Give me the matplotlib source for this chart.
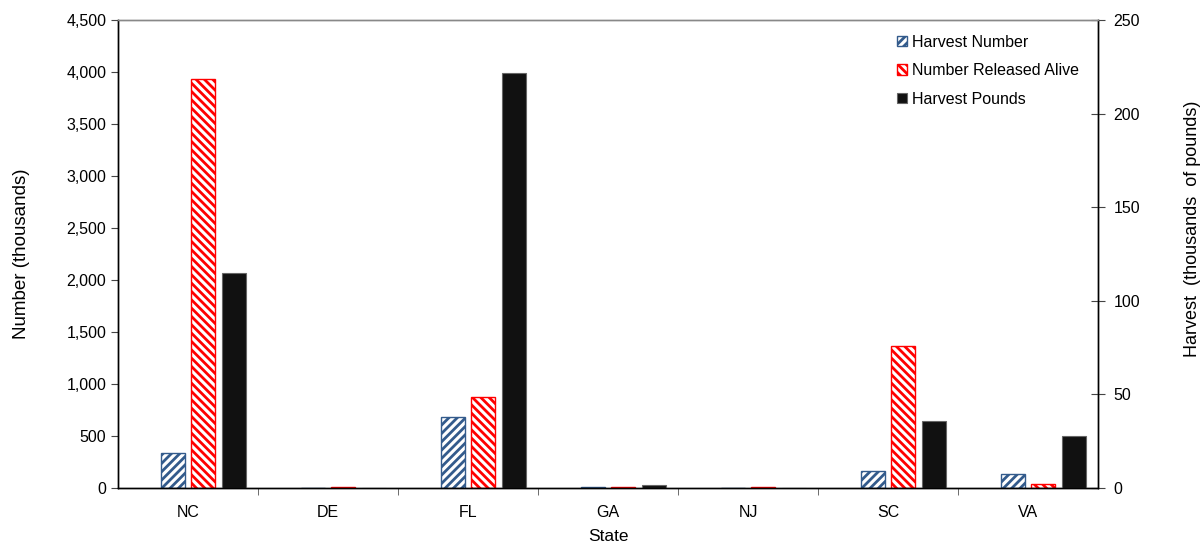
import numpy as np
import matplotlib as mpl
from matplotlib import pyplot as plt

mpl.rcParams.update({
    'font.family': ['Liberation Sans', 'DejaVu Sans'],
    'font.size': 11.5,
    'hatch.linewidth': 2.0,
    'axes.linewidth': 1.0,
})

states = ['NC', 'DE', 'FL', 'GA', 'NJ', 'SC', 'VA']
harvest_number = [333, 0, 680, 10, 0, 166, 132]        # thousands
released_alive = [3930, 10, 878, 10, 10, 1365, 41]     # thousands
harvest_pounds = [115.0, 0, 221.5, 1.6, 0, 35.8, 27.9]  # thousands of lbs

x = np.arange(len(states))
w = 0.17

fig = plt.figure(figsize=(12.04, 5.44), dpi=100)
ax = fig.add_axes([0.098, 0.103, 0.814, 0.860])
ax2 = ax.twinx()

blue = '#335b8c'
b1 = ax.bar(x - 0.107, harvest_number, w, facecolor='white', edgecolor=blue,
            hatch='////', linewidth=1.0, label='Harvest Number')
b2 = ax.bar(x + 0.107, released_alive, w, facecolor='white', edgecolor='red',
            hatch='\\\\\\\\', linewidth=1.0, label='Number Released Alive')
b3 = ax2.bar(x + 0.33, harvest_pounds, w, facecolor='#111111', edgecolor='#666666',
             linewidth=0.8, label='Harvest Pounds')

ax.set_xlim(-0.5, len(states) - 0.5)
ax.set_ylim(0, 4500)
ax2.set_ylim(0, 250)
ax.set_yticks(np.arange(0, 4501, 500))
ax.set_yticklabels(['{:,}'.format(v) for v in range(0, 4501, 500)])
ax2.set_yticks(np.arange(0, 251, 50))

ax.set_xticks(x)
ax.set_xticklabels(states)
ax.set_xticks(np.arange(0.5, len(states) - 0.5, 1), minor=True)
ax.tick_params(axis='x', which='major', length=0, pad=12)
ax.tick_params(axis='x', which='minor', length=5, direction='out', color='#555555')
ax.tick_params(axis='y', direction='out', length=5, color='#444444')
ax2.tick_params(axis='y', direction='inout', length=10, color='#444444', pad=6)

for a in (ax, ax2):
    a.spines['top'].set_color('#888888')

ax.set_xlabel('State', fontsize=12.5, labelpad=7)
ax.set_ylabel('Number (thousands)', fontsize=13.5, labelpad=26)
ax2.set_ylabel('Harvest  (thousands  of pounds)', fontsize=13)
ax2.yaxis.set_label_coords(1.088, 0.555)

ax2.legend([b1, b2, b3], ['Harvest Number', 'Number Released Alive', 'Harvest Pounds'],
           loc='upper right', bbox_to_anchor=(0.995, 1.0), frameon=False,
           handlelength=0.6, handleheight=0.6, handletextpad=0.3, labelspacing=0.85)

fig.savefig('out.png', dpi=100)
